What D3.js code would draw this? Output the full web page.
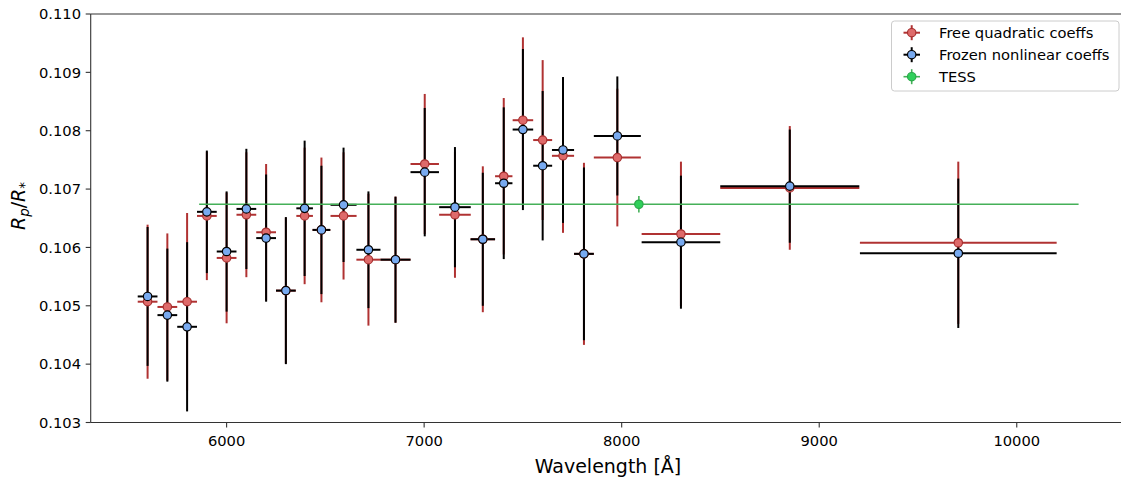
<!DOCTYPE html>
<html><head><meta charset="utf-8">
<script src="https://cdn.jsdelivr.net/npm/d3@7"></script>
<style>body{margin:0;background:#fff} text{font-family:"DejaVu Sans",sans-serif;fill:#000}</style>
</head><body><svg id="c" width="1121" height="481"></svg>
<script>
// ---- data ----
const wavelength = [5600,5700,5800,5900,6000,6100,6200,6300,6395,6480,6592,6718,6855,7003,7156,7297,7403,7500,7600,7703,7809,7978,8300,8851,9704];
const waveHalfWidth = [50,50,50,50,50,50,50,50,42,45,66,61,76,72,80,62,44,52,48,56,50,119,199,352,498];
const freeQuadratic = [0.10507,0.10498,0.10507,0.10654,0.10582,0.10656,0.10626,0.10526,0.10654,0.10630,0.10654,0.10579,0.10579,0.10743,0.10656,0.10614,0.10722,0.10818,0.10784,0.10757,0.10589,0.10754,0.10623,0.10702,0.10608];
const freeQuadraticErr = [0.00132,0.00126,0.00152,0.00110,0.00112,0.00107,0.00117,0.00125,0.00117,0.00124,0.00109,0.00113,0.00108,0.00120,0.00108,0.00125,0.00134,0.00142,0.00137,0.00132,0.00156,0.00118,0.00124,0.00106,0.00139];
const frozenNonlinear = [0.10516,0.10484,0.10464,0.10661,0.10593,0.10666,0.10616,0.10526,0.10667,0.10630,0.10673,0.10596,0.10579,0.10729,0.10669,0.10614,0.10710,0.10802,0.10740,0.10767,0.10589,0.10791,0.10609,0.10705,0.10590];
const frozenNonlinearErr = [0.00119,0.00114,0.00145,0.00105,0.00103,0.00103,0.00109,0.00126,0.00116,0.00110,0.00098,0.00100,0.00108,0.00110,0.00103,0.00114,0.00130,0.00138,0.00128,0.00125,0.00148,0.00102,0.00114,0.00097,0.00128];
const tessWavelength = [8087];
const tessHalfWidth = [2226];
const tessValue = [0.10674];
const tessErr = [0.00014];
const xTicks = [6000,7000,8000,9000,10000];
const yTicks = [0.103,0.104,0.105,0.106,0.107,0.108,0.109,0.110];
const seriesNames = ["Free quadratic coeffs","Frozen nonlinear coeffs","TESS"];

// ---- styles ----
const st = {
  red:  {bar:"#b03232", fill:"#de6a6a", edge:"#a83030"},
  blk:  {bar:"#000000", fill:"#78aaf0", edge:"#000000"},
  tess: {bar:"#45b058", fill:"#2fd05a", edge:"#2aa84a"}
};

const svg = d3.select("#c");
const x = d3.scaleLinear().domain([5312,10551]).range([90.7,1125.6]);
const y = d3.scaleLinear().domain([0.103,0.110]).range([422.5,14]);

const mk = (w,hw,v,e) => w.map((d,i)=>({w:d,hw:hw[i],v:v[i],e:e[i]}));
const red = mk(wavelength,waveHalfWidth,freeQuadratic,freeQuadraticErr);
const blk = mk(wavelength,waveHalfWidth,frozenNonlinear,frozenNonlinearErr);
const tess = mk(tessWavelength,tessHalfWidth,tessValue,tessErr);

function bars(data, s, lw, cls){
  const g = svg.append("g").attr("class",cls);
  g.selectAll("line.v").data(data).join("line").attr("class","v")
    .attr("x1",d=>x(d.w)).attr("x2",d=>x(d.w))
    .attr("y1",d=>y(d.v-d.e)).attr("y2",d=>y(d.v+d.e))
    .attr("stroke",s.bar).attr("stroke-width",lw);
  g.selectAll("line.h").data(data).join("line").attr("class","h")
    .attr("x1",d=>x(d.w-d.hw)).attr("x2",d=>x(d.w+d.hw))
    .attr("y1",d=>y(d.v)).attr("y2",d=>y(d.v))
    .attr("stroke",s.bar).attr("stroke-width",lw);
}
function markers(data, s, r){
  svg.append("g").selectAll("circle").data(data).join("circle")
    .attr("cx",d=>x(d.w)).attr("cy",d=>y(d.v)).attr("r",r)
    .attr("fill",s.fill).attr("stroke",s.edge).attr("stroke-width",1.2);
}

bars(red, st.red, 2, "redbars");
bars(blk, st.blk, 2, "blkbars");
bars(tess, st.tess, 1.6, "tessbars");
markers(red, st.red, 4.2);
markers(blk, st.blk, 4.2);
markers(tess, st.tess, 4.2);

// ---- axes ----
const axisCol = "#333";
const ax = svg.append("g");
ax.append("line").attr("x1",90.7).attr("x2",1125.6).attr("y1",422.5).attr("y2",422.5).attr("stroke",axisCol).attr("stroke-width",1.1);
ax.append("line").attr("x1",90.7).attr("x2",1125.6).attr("y1",14).attr("y2",14).attr("stroke",axisCol).attr("stroke-width",1.1);
ax.append("line").attr("x1",90.7).attr("x2",90.7).attr("y1",14).attr("y2",422.5).attr("stroke",axisCol).attr("stroke-width",1.1);
ax.append("line").attr("x1",1125.6).attr("x2",1125.6).attr("y1",14).attr("y2",422.5).attr("stroke",axisCol).attr("stroke-width",1.1);

const xt = ax.selectAll("g.xt").data(xTicks).join("g").attr("class","xt");
xt.append("line").attr("x1",d=>x(d)).attr("x2",d=>x(d)).attr("y1",422.5).attr("y2",427.5).attr("stroke",axisCol).attr("stroke-width",1.1);
xt.append("text").attr("x",d=>x(d)).attr("y",445.5).attr("text-anchor","middle").attr("font-size",14.7).text(d=>d);

const yt = ax.selectAll("g.yt").data(yTicks).join("g").attr("class","yt");
yt.append("line").attr("x1",85.7).attr("x2",90.7).attr("y1",d=>y(d)).attr("y2",d=>y(d)).attr("stroke",axisCol).attr("stroke-width",1.1);
yt.append("text").attr("x",81).attr("y",d=>y(d)+5.3).attr("text-anchor","end").attr("font-size",14.7).text(d=>d3.format(".3f")(d));

svg.append("text").attr("x",608).attr("y",473).attr("text-anchor","middle").attr("font-size",19).text("Wavelength [Å]");

const yl = svg.append("text").attr("transform","translate(25,206) rotate(-90)").attr("text-anchor","middle").attr("font-size",19);
yl.append("tspan").attr("font-style","italic").text("R");
yl.append("tspan").attr("font-style","italic").attr("font-size",13.5).attr("dy",4).text("p");
yl.append("tspan").attr("dy",-4).text("/");
yl.append("tspan").attr("font-style","italic").text("R");
yl.append("tspan").attr("font-size",13.5).attr("dy",4).text("*");

// ---- legend ----
const lg = svg.append("g");
lg.append("rect").attr("x",891.5).attr("y",21).attr("width",227.5).attr("height",70).attr("rx",3)
  .attr("fill","#fff").attr("fill-opacity",0.8).attr("stroke","#cccccc").attr("stroke-width",1);
const lstyles = [st.red, st.blk, st.tess];
seriesNames.forEach((name,i)=>{
  const cy = 32.7 + i*22;
  const s = lstyles[i];
  const lw = i===2 ? 1.6 : 2;
  lg.append("line").attr("x1",903.5).attr("x2",920).attr("y1",cy).attr("y2",cy).attr("stroke",s.bar).attr("stroke-width",lw);
  lg.append("line").attr("x1",911.7).attr("x2",911.7).attr("y1",cy-7.5).attr("y2",cy+7.5).attr("stroke",s.bar).attr("stroke-width",lw);
  lg.append("circle").attr("cx",911.7).attr("cy",cy).attr("r",4.2).attr("fill",s.fill).attr("stroke",s.edge).attr("stroke-width",1.2);
  lg.append("text").attr("x",939).attr("y",cy+5.2).attr("font-size",14.7).text(name);
});
</script></body></html>
